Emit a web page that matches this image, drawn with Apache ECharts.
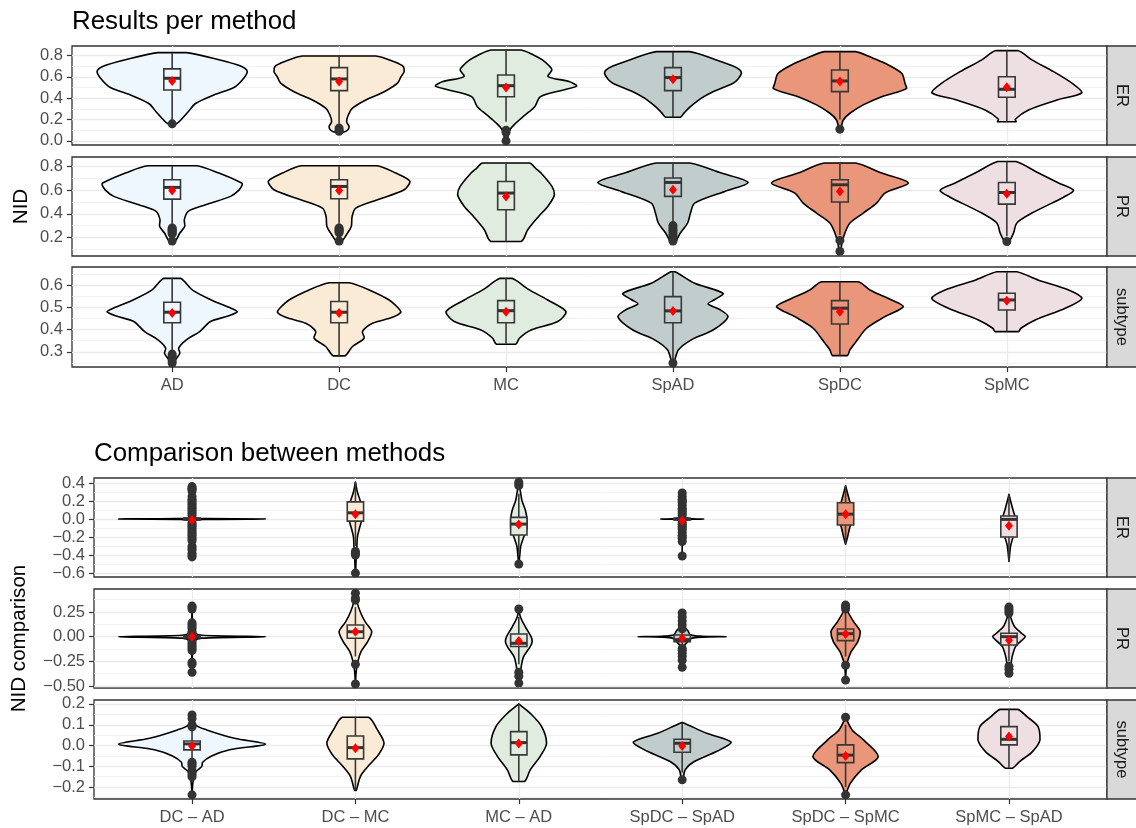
<!DOCTYPE html>
<html><head><meta charset="utf-8">
<script src="https://cdn.jsdelivr.net/npm/echarts@6/dist/echarts.min.js"></script>
<style>html,body{margin:0;padding:0;background:#fff}#c{width:1136px;height:828px}</style>
</head><body><div id="c"></div>
<script>
// ---------------- DATA ----------------
const topCats = ['AD', 'DC', 'MC', 'SpAD', 'SpDC', 'SpMC'];
const botCats = ['DC – AD', 'DC – MC', 'MC – AD', 'SpDC – SpAD', 'SpDC – SpMC', 'SpMC – SpAD'];
const catPos = [1, 2, 3, 4, 5, 6];
const fillColors = ['#EEF6FE', '#FAEBD7', '#DFECDF', '#C1CDCD', '#E9967A', '#EEDFE3'];
const facetNames = ['ER', 'PR', 'subtype'];

// tick labels (major) and minor grid values per facet
const topER_ticks = [0, 0.2, 0.4, 0.6, 0.8];
const topER_minor = [0.1, 0.3, 0.5, 0.7];
const topPR_ticks = [0.2, 0.4, 0.6, 0.8];
const topPR_minor = [0.1, 0.3, 0.5, 0.7];
const topST_ticks = [0.3, 0.4, 0.5, 0.6];
const topST_minor = [0.25, 0.35, 0.45, 0.55, 0.65];
const botER_ticks = [-0.6, -0.4, -0.2, 0, 0.2, 0.4];
const botER_minor = [-0.5, -0.3, -0.1, 0.1, 0.3];
const botPR_ticks = [-0.5, -0.25, 0, 0.25];
const botPR_minor = [-0.375, -0.125, 0.125, 0.375];
const botST_ticks = [-0.2, -0.1, 0, 0.1, 0.2];
const botST_minor = [-0.25, -0.15, -0.05, 0.05, 0.15];

// violin density profiles: [value, half-width (category units)], top -> bottom
const topER_violin = [
  [[0.826,0.087],[0.76,0.28],[0.70,0.41],[0.648,0.45],[0.57,0.42],[0.50,0.37],[0.43,0.25],[0.35,0.14],[0.27,0.095],[0.21,0.06],[0.16,0.025]],
  [[0.795,0.22],[0.74,0.33],[0.695,0.385],[0.648,0.39],[0.60,0.37],[0.54,0.35],[0.46,0.27],[0.383,0.16],[0.306,0.08],[0.243,0.055],[0.18,0.045],[0.134,0.06],[0.10,0.05],[0.08,0.02]],
  [[0.851,0.09],[0.80,0.17],[0.758,0.218],[0.70,0.26],[0.664,0.275],[0.602,0.252],[0.555,0.378],[0.515,0.424],[0.477,0.344],[0.414,0.206],[0.32,0.172],[0.243,0.115],[0.165,0.057],[0.103,0.023],[0.0,0.004]],
  [[0.835,0.10],[0.758,0.26],[0.70,0.36],[0.664,0.40],[0.633,0.41],[0.58,0.39],[0.54,0.36],[0.46,0.24],[0.40,0.17],[0.353,0.13],[0.30,0.09],[0.26,0.066],[0.222,0.044]],
  [[0.835,0.094],[0.78,0.19],[0.727,0.27],[0.633,0.37],[0.54,0.39],[0.493,0.40],[0.45,0.33],[0.414,0.25],[0.337,0.14],[0.259,0.06],[0.196,0.02],[0.11,0.005]],
  [[0.845,0.066],[0.758,0.15],[0.648,0.28],[0.54,0.39],[0.452,0.45],[0.383,0.30],[0.29,0.13],[0.203,0.05],[0.18,0.055]]
];
const topPR_violin = [
  [[0.806,0.145],[0.744,0.28],[0.66,0.417],[0.645,0.42],[0.60,0.40],[0.547,0.35],[0.476,0.20],[0.42,0.096],[0.35,0.073],[0.293,0.075],[0.237,0.046],[0.166,0.016]],
  [[0.806,0.225],[0.744,0.34],[0.673,0.425],[0.603,0.39],[0.519,0.23],[0.448,0.10],[0.377,0.078],[0.293,0.073],[0.223,0.044],[0.166,0.015]],
  [[0.829,0.14],[0.78,0.18],[0.744,0.21],[0.631,0.275],[0.561,0.29],[0.462,0.25],[0.377,0.195],[0.265,0.13],[0.166,0.09]],
  [[0.829,0.10],[0.744,0.29],[0.665,0.45],[0.589,0.31],[0.49,0.13],[0.406,0.105],[0.322,0.088],[0.237,0.044],[0.153,0.01]],
  [[0.829,0.094],[0.744,0.25],[0.66,0.41],[0.575,0.27],[0.49,0.22],[0.406,0.14],[0.322,0.06],[0.237,0.03],[0.15,0.012],[0.082,0.004]],
  [[0.842,0.055],[0.744,0.19],[0.66,0.31],[0.597,0.40],[0.54,0.34],[0.49,0.27],[0.406,0.15],[0.322,0.06],[0.237,0.04],[0.166,0.012]]
];
const topST_violin = [
  [[0.63,0.05],[0.578,0.12],[0.533,0.234],[0.50,0.34],[0.48,0.39],[0.46,0.33],[0.436,0.23],[0.391,0.165],[0.354,0.085],[0.317,0.039],[0.294,0.046],[0.27,0.025],[0.25,0.006]],
  [[0.61,0.06],[0.578,0.18],[0.533,0.30],[0.50,0.35],[0.478,0.37],[0.455,0.32],[0.428,0.20],[0.391,0.14],[0.361,0.15],[0.324,0.08],[0.282,0.035]],
  [[0.63,0.036],[0.578,0.14],[0.533,0.25],[0.48,0.36],[0.436,0.31],[0.398,0.15],[0.361,0.08],[0.334,0.057]],
  [[0.66,0.012],[0.608,0.13],[0.563,0.30],[0.535,0.25],[0.515,0.21],[0.49,0.28],[0.458,0.33],[0.398,0.24],[0.354,0.11],[0.309,0.033],[0.25,0.005]],
  [[0.615,0.11],[0.578,0.18],[0.533,0.31],[0.503,0.38],[0.458,0.27],[0.406,0.16],[0.354,0.105],[0.309,0.06],[0.283,0.044]],
  [[0.66,0.06],[0.622,0.19],[0.578,0.37],[0.54,0.45],[0.496,0.35],[0.443,0.17],[0.406,0.084],[0.391,0.07]]
];
const botER_violin = [
  [[0.36,0.0],[0.05,0.002],[0.012,0.01],[0.004,0.1],[0,0.45],[-0.004,0.1],[-0.012,0.01],[-0.05,0.002],[-0.42,0.0]],
  [[0.41,0.0],[0.3,0.012],[0.2,0.03],[0.1,0.045],[0.0,0.04],[-0.1,0.025],[-0.2,0.012],[-0.35,0.008],[-0.45,0.004],[-0.6,0.001]],
  [[0.41,0.0],[0.3,0.01],[0.2,0.02],[0.1,0.04],[0.0,0.05],[-0.1,0.05],[-0.2,0.03],[-0.3,0.012],[-0.4,0.006],[-0.5,0.0]],
  [[0.29,0.0],[0.03,0.003],[0.01,0.02],[0.003,0.06],[0,0.133],[-0.003,0.06],[-0.01,0.02],[-0.03,0.003],[-0.41,0.0]],
  [[0.37,0.0],[0.3,0.01],[0.2,0.025],[0.1,0.04],[0.0,0.04],[-0.1,0.025],[-0.2,0.012],[-0.28,0.0]],
  [[0.275,0.0],[0.2,0.01],[0.1,0.025],[0.0,0.04],[-0.1,0.04],[-0.2,0.025],[-0.3,0.01],[-0.47,0.0]]
];
const botPR_violin = [
  [[0.31,0.0],[0.1,0.004],[0.04,0.015],[0.015,0.06],[0.0,0.45],[-0.015,0.06],[-0.04,0.015],[-0.1,0.004],[-0.36,0.0]],
  [[0.44,0.0],[0.35,0.01],[0.25,0.03],[0.15,0.06],[0.05,0.1],[-0.05,0.075],[-0.15,0.035],[-0.25,0.015],[-0.35,0.005],[-0.48,0.0]],
  [[0.28,0.0],[0.2,0.01],[0.1,0.04],[0.0,0.075],[-0.05,0.082],[-0.1,0.07],[-0.2,0.03],[-0.3,0.015],[-0.38,0.01],[-0.47,0.0]],
  [[0.24,0.0],[0.1,0.01],[0.06,0.035],[0.02,0.05],[0.005,0.12],[0.0,0.27],[-0.005,0.12],[-0.02,0.05],[-0.05,0.035],[-0.1,0.01],[-0.31,0.0]],
  [[0.32,0.0],[0.25,0.015],[0.15,0.05],[0.05,0.09],[-0.05,0.075],[-0.15,0.035],[-0.25,0.012],[-0.3,0.005],[-0.44,0.0]],
  [[0.28,0.0],[0.2,0.01],[0.1,0.035],[0.03,0.08],[0.0,0.1],[-0.05,0.07],[-0.1,0.04],[-0.2,0.02],[-0.3,0.01],[-0.37,0.0]]
];
const botST_violin = [
  [[0.15,0.0],[0.1,0.02],[0.075,0.09],[0.035,0.26],[0.007,0.45],[-0.02,0.23],[-0.05,0.12],[-0.08,0.065],[-0.1,0.06],[-0.13,0.02],[-0.18,0.005],[-0.24,0.0]],
  [[0.136,0.08],[0.075,0.135],[0.011,0.175],[-0.045,0.14],[-0.1,0.077],[-0.149,0.03],[-0.216,0.005]],
  [[0.2,0.0],[0.155,0.07],[0.091,0.14],[0.011,0.17],[-0.053,0.13],[-0.117,0.07],[-0.173,0.035]],
  [[0.11,0.005],[0.059,0.15],[0.016,0.30],[-0.029,0.21],[-0.077,0.074],[-0.117,0.018],[-0.165,0.004]],
  [[0.136,0.0],[0.075,0.04],[0.027,0.11],[-0.053,0.2],[-0.117,0.097],[-0.181,0.03],[-0.237,0.0]],
  [[0.174,0.054],[0.139,0.11],[0.091,0.178],[0.027,0.19],[-0.029,0.144],[-0.077,0.065],[-0.109,0.022]]
];

// boxplot stats: [lower whisker, Q1, median, Q3, upper whisker]
const topER_box = [[0.19,0.477,0.586,0.674,0.826],[0.16,0.471,0.58,0.686,0.795],[0.18,0.414,0.517,0.617,0.851],[0.222,0.471,0.593,0.686,0.835],[0.20,0.461,0.561,0.664,0.835],[0.18,0.409,0.483,0.601,0.845]];
const topPR_box = [[0.30,0.524,0.623,0.688,0.806],[0.30,0.527,0.631,0.688,0.806],[0.166,0.434,0.575,0.673,0.829],[0.32,0.547,0.665,0.702,0.829],[0.22,0.499,0.645,0.688,0.829],[0.21,0.482,0.58,0.665,0.842]];
const topST_box = [[0.30,0.431,0.478,0.523,0.63],[0.282,0.431,0.478,0.526,0.61],[0.334,0.431,0.485,0.53,0.63],[0.26,0.431,0.484,0.548,0.66],[0.283,0.425,0.496,0.53,0.615],[0.391,0.488,0.533,0.563,0.66]];
const botER_box = [[-0.03,-0.01,0.0,0.01,0.03],[-0.3,-0.023,0.069,0.19,0.41],[-0.4,-0.177,-0.056,0.018,0.28],[-0.025,-0.008,0.0,0.008,0.025],[-0.28,-0.067,0.054,0.18,0.37],[-0.47,-0.2,-0.004,0.033,0.275]];
const botPR_box = [[-0.03,-0.012,0.0,0.012,0.03],[-0.2,-0.016,0.05,0.118,0.3],[-0.28,-0.1,-0.067,0.027,0.2],[-0.1,-0.05,-0.03,0.017,0.06],[-0.2,-0.04,0.03,0.078,0.25],[-0.25,-0.084,0.0,0.034,0.2]];
const botST_box = [[-0.06,-0.021,0.008,0.022,0.08],[-0.216,-0.064,-0.01,0.046,0.136],[-0.173,-0.045,0.014,0.067,0.2],[-0.13,-0.032,0.011,0.03,0.11],[-0.2,-0.082,-0.046,0.003,0.1],[-0.109,0.003,0.03,0.091,0.174]];

// means
const topER_mean = [0.561, 0.555, 0.50, 0.577, 0.555, 0.502];
const topPR_mean = [0.597, 0.597, 0.547, 0.603, 0.589, 0.569];
const topST_mean = [0.474, 0.474, 0.48, 0.484, 0.48, 0.53];
const botER_mean = [-0.01, 0.054, -0.06, -0.02, 0.054, -0.075];
const botPR_mean = [0.0, 0.05, -0.044, -0.017, 0.027, -0.035];
const botST_mean = [-0.002, -0.013, 0.01, -0.002, -0.05, 0.043];

// outliers
const topER_out = [[0.16],[0.12,0.10,0.09],[0.10,0.08,0.0],[],[0.11],[]];
const topPR_out = [[0.28,0.27,0.26,0.25,0.24,0.23,0.17],[0.28,0.27,0.26,0.25,0.24,0.17],[],[0.30,0.28,0.26,0.24,0.22,0.20,0.18,0.17],[0.175,0.082],[0.166]];
const topST_out = [[0.29,0.28,0.26,0.25],[],[],[0.25],[],[]];
const botER_out = [
  [0.36,0.34,0.33,0.31,0.25,0.22,0.2,0.18,0.16,0.14,0.12,0.1,0.08,0.06,0.04,-0.04,-0.06,-0.08,-0.1,-0.12,-0.14,-0.16,-0.18,-0.2,-0.22,-0.24,-0.3,-0.32,-0.34,-0.38,-0.4,-0.42],
  [-0.36,-0.38,-0.40,-0.6],
  [0.41,0.39,0.37,-0.5],
  [0.29,0.25,0.22,0.2,0.18,0.15,0.12,0.1,0.08,0.06,0.04,-0.04,-0.06,-0.08,-0.1,-0.12,-0.15,-0.18,-0.2,-0.22,-0.25,-0.41],
  [],
  []
];
const botPR_out = [
  [0.31,0.3,0.28,0.14,0.12,0.1,0.08,0.05,0.04,-0.04,-0.06,-0.08,-0.1,-0.12,-0.14,-0.26,-0.28,-0.36],
  [0.44,0.39,0.37,-0.28,-0.48],
  [0.28,-0.36,-0.4,-0.47],
  [0.24,0.2,0.16,0.12,0.08,-0.12,-0.14,-0.17,-0.2,-0.24,-0.31],
  [0.32,0.3,0.28,-0.29,-0.44],
  [0.3,0.28,0.26,0.24,-0.3,-0.33,-0.37]
];
const botST_out = [[0.147,0.13,0.1,0.09,-0.08,-0.09,-0.1,-0.12,-0.13,-0.14,-0.15,-0.237],[],[],[-0.165],[0.136,-0.237],[]];

// ---------------- LAYOUT ----------------
const FONT = "'Liberation Sans', Arial, Helvetica, sans-serif";
const RIGHT = 1107;
const facets = [
  {top:46, h:99, left:72, range:[-0.038,0.888], ticks:topER_ticks, minor:topER_minor, dec:1, v:topER_violin, b:topER_box, m:topER_mean, o:topER_out, cats:topCats, showX:false, strip:'ER'},
  {top:157, h:99, left:72, range:[0.043,0.880], ticks:topPR_ticks, minor:topPR_minor, dec:1, v:topPR_violin, b:topPR_box, m:topPR_mean, o:topPR_out, cats:topCats, showX:false, strip:'PR', name:'NID', nameGap:40},
  {top:267, h:100, left:72, range:[0.232,0.681], ticks:topST_ticks, minor:topST_minor, dec:1, v:topST_violin, b:topST_box, m:topST_mean, o:topST_out, cats:topCats, showX:true, strip:'subtype'},
  {top:478, h:99, left:94, range:[-0.643,0.455], ticks:botER_ticks, minor:botER_minor, dec:1, v:botER_violin, b:botER_box, m:botER_mean, o:botER_out, cats:botCats, showX:false, strip:'ER'},
  {top:589, h:99, left:94, range:[-0.52,0.483], ticks:botPR_ticks, minor:botPR_minor, dec:2, v:botPR_violin, b:botPR_box, m:botPR_mean, o:botPR_out, cats:botCats, showX:false, strip:'PR', name:'NID comparison', nameGap:64},
  {top:700, h:99, left:94, range:[-0.257,0.219], ticks:botST_ticks, minor:botST_minor, dec:1, v:botST_violin, b:botST_box, m:botST_mean, o:botST_out, cats:botCats, showX:true, strip:'subtype'}
];

const grid = [], xAxis = [], yAxis = [], series = [], graphic = [];
facets.forEach((f, i) => {
  grid.push({left:f.left, top:f.top, width:RIGHT - f.left, height:f.h, show:true, borderColor:'#333333', borderWidth:1.3, backgroundColor:'#ffffff'});
  xAxis.push({
    type:'value', gridIndex:i, min:0.4, max:6.6, position:'bottom',
    axisLine:{show:false, onZero:false},
    axisTick:{show:f.showX, customValues:catPos, length:5, lineStyle:{color:'#333333', width:1.2}},
    axisLabel:{show:f.showX, customValues:catPos, formatter:(v) => f.cats[Math.round(v) - 1], color:'#4D4D4D', fontSize:16.5, fontFamily:FONT, margin:10},
    splitLine:{show:true, lineStyle:{color:'#EBEBEB', width:1.3}}
  });
  const fmt = (v) => (Math.abs(v) < 1e-9 ? 0 : v).toFixed(f.dec).replace('-', '\u2212');
  yAxis.push({
    type:'value', gridIndex:i, min:f.range[0], max:f.range[1], position:'left',
    name:f.name || '', nameLocation:'middle', nameGap:f.nameGap || 30, nameMoveOverlap:false,
    nameTextStyle:{color:'#000000', fontSize:20.6, fontFamily:FONT},
    axisLine:{show:false, onZero:false},
    axisTick:{show:true, customValues:f.ticks, length:5, lineStyle:{color:'#333333', width:1.2}},
    axisLabel:{customValues:f.ticks, formatter:fmt, color:'#4D4D4D', fontSize:16.5, fontFamily:FONT, margin:9},
    splitLine:{show:true, lineStyle:{color:'#EBEBEB', width:1.3}}
  });
  yAxis.push({
    type:'value', gridIndex:i, min:f.range[0], max:f.range[1], position:'left',
    axisLine:{show:false, onZero:false},
    axisTick:{show:false, customValues:f.minor},
    axisLabel:{show:false, customValues:f.minor},
    splitLine:{show:true, lineStyle:{color:'#EBEBEB', width:0.7}}
  });
  const yi = 2 * i;
  // violins
  series.push({
    type:'custom', xAxisIndex:i, yAxisIndex:yi, clip:true, z:2, silent:true,
    data:catPos.map((c) => [c]),
    renderItem:(params, api) => {
      const prof = f.v[params.dataIndex];
      const c = api.value(0);
      const left = prof.map(([v, w]) => api.coord([c - w, v]));
      const right = prof.slice().reverse().map(([v, w]) => api.coord([c + w, v]));
      const pts = left.concat(right);
      return {type:'polygon', shape:{points:pts, smooth:0.3, smoothConstraint:[pts[0], pts[0]]},
        style:{fill:fillColors[params.dataIndex], stroke:'#000000', lineWidth:1.6, lineJoin:'round'}};
    }
  });
  // boxes
  series.push({
    type:'custom', xAxisIndex:i, yAxisIndex:yi, clip:true, z:3, silent:true,
    data:catPos.map((c) => [c]),
    renderItem:(params, api) => {
      const k = params.dataIndex;
      const [lo, q1, med, q3, hi] = f.b[k];
      const c = api.value(0);
      const pLo = api.coord([c, lo]), pQ1 = api.coord([c, q1]), pMed = api.coord([c, med]), pQ3 = api.coord([c, q3]), pHi = api.coord([c, hi]);
      const xl = api.coord([c - 0.05, med])[0], xr = api.coord([c + 0.05, med])[0];
      const st = {stroke:'#383838', lineWidth:1.6};
      return {type:'group', children:[
        {type:'line', shape:{x1:pLo[0], y1:pLo[1], x2:pQ1[0], y2:pQ1[1]}, style:st},
        {type:'line', shape:{x1:pQ3[0], y1:pQ3[1], x2:pHi[0], y2:pHi[1]}, style:st},
        {type:'rect', shape:{x:xl, y:pQ3[1], width:xr - xl, height:pQ1[1] - pQ3[1]}, style:{fill:fillColors[k], stroke:'#383838', lineWidth:1.6}},
        {type:'line', shape:{x1:xl, y1:pMed[1], x2:xr, y2:pMed[1]}, style:{stroke:'#333333', lineWidth:3}}
      ]};
    }
  });
  // outliers
  series.push({
    type:'scatter', xAxisIndex:i, yAxisIndex:yi, clip:true, z:4, silent:true,
    symbol:'circle', symbolSize:9, itemStyle:{color:'#333333', opacity:1},
    data:f.o.flatMap((arr, k) => arr.map((v) => [catPos[k], v]))
  });
  // means
  series.push({
    type:'scatter', xAxisIndex:i, yAxisIndex:yi, clip:true, z:5, silent:true,
    symbol:'diamond', symbolSize:[8, 10], itemStyle:{color:'#FF0000', opacity:1},
    data:f.m.map((v, k) => [catPos[k], v])
  });
  // strip
  graphic.push({type:'rect', shape:{x:RIGHT, y:f.top, width:33, height:f.h}, style:{fill:'#D9D9D9', stroke:'#333333', lineWidth:1.3}, z:10});
  graphic.push({type:'text', x:1122, y:f.top + f.h / 2, rotation:-Math.PI / 2,
    style:{text:f.strip, fill:'#1A1A1A', font:'16.5px ' + FONT, align:'center', verticalAlign:'middle'}, z:11});
});

const option = {
  animation:false,
  backgroundColor:'#ffffff',
  textStyle:{fontFamily:FONT},
  title:[
    {text:'Results per method', left:72, top:9, padding:0, textStyle:{fontSize:25.9, fontWeight:'normal', color:'#000000', fontFamily:FONT}},
    {text:'Comparison between methods', left:94, top:441, padding:0, textStyle:{fontSize:25.9, fontWeight:'normal', color:'#000000', fontFamily:FONT}}
  ],
  grid, xAxis, yAxis, series, graphic
};
const chart = echarts.init(document.getElementById('c'));
chart.setOption(option);
</script></body></html>
